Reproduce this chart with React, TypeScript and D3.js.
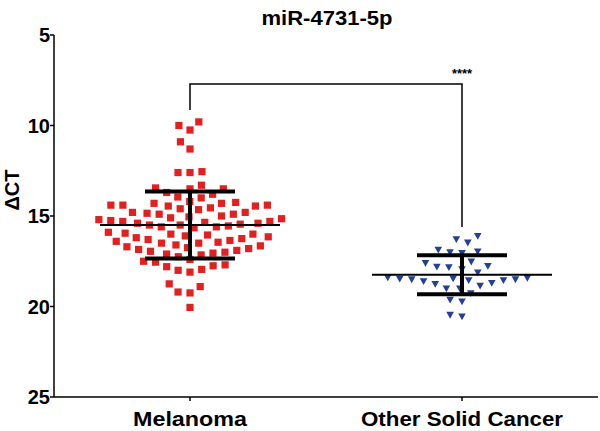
import React from "react";
import * as d3 from "d3";

const title = "miR-4731-5p";
const categories = ["Melanoma", "Other Solid Cancer"];
const yTicks = [5, 10, 15, 20, 25];
const yLabel = "ΔCT";
const sigLabel = "****";

const melanoma = [
  9.8, 10.0, 10.25, 10.9, 11.3,
  12.55, 12.6, 12.6,
  13.3, 13.45, 13.5, 13.5,
  13.7, 13.8, 13.95, 14.0, 14.2, 14.25, 14.3, 14.3, 14.4,
  14.4, 14.4, 14.45, 14.45, 14.55, 14.6, 14.65, 14.8, 14.8, 14.85, 14.9, 14.9, 15.0, 15.05,
  15.1, 15.15, 15.2, 15.25, 15.3, 15.3, 15.35, 15.4, 15.4, 15.45, 15.5, 15.5, 15.55, 15.6, 15.6, 15.65,
  15.9, 15.95, 16.0, 16.0, 16.05, 16.1, 16.15, 16.2, 16.25, 16.3, 16.35, 16.4, 16.45, 16.5, 16.5,
  16.6, 16.65, 16.7, 16.75, 16.8, 16.85, 16.9, 16.95, 17.0, 17.05, 17.1, 17.15,
  17.25, 17.4, 17.5, 17.55, 17.7, 17.75, 17.8,
  17.95, 18.0, 18.1,
  18.75, 18.9, 19.2, 19.25,
  20.05,
];

const otherCancer = [
  16.1, 16.28, 16.47,
  16.86, 16.96, 17.0, 17.05,
  17.52, 17.6, 17.76, 17.8, 17.83, 17.94, 18.12,
  18.4, 18.42, 18.45, 18.47, 18.5, 18.5, 18.55, 18.55, 18.6, 18.7, 18.75, 18.85, 19.0, 19.0,
  19.27, 19.63, 19.72,
  20.46, 20.55,
];

// summary stats: [mean, sd]
const melanomaStats = [15.5, 1.85];
const otherStats = [18.25, 1.08];

const W = 600;
const H = 431;
const left = 54;
const right = 598;
const top = 35;
const bottom = 397;

function swarm(values: number[], y: (v: number) => number, cx: number, d: number) {
  const placed: { x: number; y: number; v: number }[] = [];
  const order = [...values].sort((a, b) => b - a);
  for (const v of order) {
    const py = y(v);
    const intervals: [number, number][] = [];
    for (const p of placed) {
      const dy = Math.abs(p.y - py);
      if (dy < d) {
        const dx = Math.sqrt(d * d - dy * dy);
        intervals.push([p.x - dx, p.x + dx]);
      }
    }
    const cands = [cx];
    intervals.forEach(([a, b]) => {
      cands.push(a, b);
    });
    cands.sort((a, b) => Math.abs(a - cx) - Math.abs(b - cx));
    let chosen = cx;
    for (const c of cands) {
      if (intervals.every(([a, b]) => c <= a + 1e-6 || c >= b - 1e-6)) {
        chosen = c;
        break;
      }
    }
    placed.push({ x: chosen, y: py, v });
  }
  return placed;
}

const catWidths = [114, 202];

export default function App() {
  const y = d3.scaleLinear().domain([5, 25]).range([top, bottom]);
  const x = d3.scaleBand().domain(categories).range([left, right]);
  const cx0 = (x(categories[0]) as number) + x.bandwidth() / 2;
  const cx1 = (x(categories[1]) as number) + x.bandwidth() / 2;

  const ptsA = swarm(melanoma, y, cx0, 12);
  const ptsB = swarm(otherCancer, y, cx1, 12);

  const font = "'Liberation Sans', Arial, sans-serif";

  const errBar = (cx: number, stats: number[]) => {
    const [m, sd] = stats;
    return (
      <g stroke="#000">
        <line x1={cx - 90} x2={cx + 90} y1={y(m)} y2={y(m)} strokeWidth={2} />
        <line x1={cx} x2={cx} y1={y(m - sd)} y2={y(m + sd)} strokeWidth={4} />
        <line x1={cx - 45} x2={cx + 45} y1={y(m - sd)} y2={y(m - sd)} strokeWidth={4} />
        <line x1={cx - 45} x2={cx + 45} y1={y(m + sd)} y2={y(m + sd)} strokeWidth={4} />
      </g>
    );
  };

  return (
    <svg width={W} height={H} style={{ position: "absolute", left: 0, top: 0 }}>
      <rect width={W} height={H} fill="#fff" />
      <text
        x={327}
        y={25}
        textAnchor="middle"
        fontFamily={font}
        fontWeight="bold"
        fontSize={20}
        textLength={131}
        lengthAdjust="spacingAndGlyphs"
      >
        {title}
      </text>
      {/* axes */}
      <line x1={left} x2={left} y1={top} y2={bottom} stroke="#000" strokeWidth={1.5} />
      <line x1={left} x2={right} y1={bottom} y2={bottom} stroke="#000" strokeWidth={1.5} />
      {yTicks.map((t) => (
        <g key={t}>
          <line x1={left - 4} x2={left} y1={y(t)} y2={y(t)} stroke="#000" strokeWidth={1.5} />
          <text x={left - 4} y={y(t)} dy="0.36em" textAnchor="end" fontFamily={font} fontWeight="bold" fontSize={20}>
            {t}
          </text>
        </g>
      ))}
      {categories.map((c, i) => {
        const cx = (x(c) as number) + x.bandwidth() / 2;
        return (
          <g key={c}>
            <line x1={cx} x2={cx} y1={bottom} y2={bottom + 4} stroke="#000" strokeWidth={1.5} />
            <text
              x={cx}
              y={426}
              textAnchor="middle"
              fontFamily={font}
              fontWeight="bold"
              fontSize={20}
              textLength={catWidths[i]}
              lengthAdjust="spacingAndGlyphs"
            >
              {c}
            </text>
          </g>
        );
      })}
      <text
        transform={`translate(12, 190) rotate(-90)`}
        textAnchor="middle"
        dy="0.36em"
        fontFamily={font}
        fontWeight="bold"
        fontSize={20}
      >
        {yLabel}
      </text>
      {/* points */}
      {ptsA.map((p, i) => (
        <rect key={"a" + i} x={p.x - 3.6} y={p.y - 3.6} width={7.2} height={7.2} fill="#e2201f" />
      ))}
      {ptsB.map((p, i) => (
        <path
          key={"b" + i}
          transform={`translate(${p.x},${p.y})`}
          d="M-3.8,-3 L3.8,-3 L0,3.8 Z"
          fill="#233f96"
        />
      ))}
      {errBar(cx0, melanomaStats)}
      {errBar(cx1, otherStats)}
      {/* significance bracket */}
      <path
        d={`M${cx0},110 L${cx0},84 L${cx1},84 L${cx1},227`}
        fill="none"
        stroke="#000"
        strokeWidth={1.5}
      />
      <text x={cx1} y={78} textAnchor="middle" fontFamily={font} fontWeight="bold" fontSize={13}>
        {sigLabel}
      </text>
    </svg>
  );
}
